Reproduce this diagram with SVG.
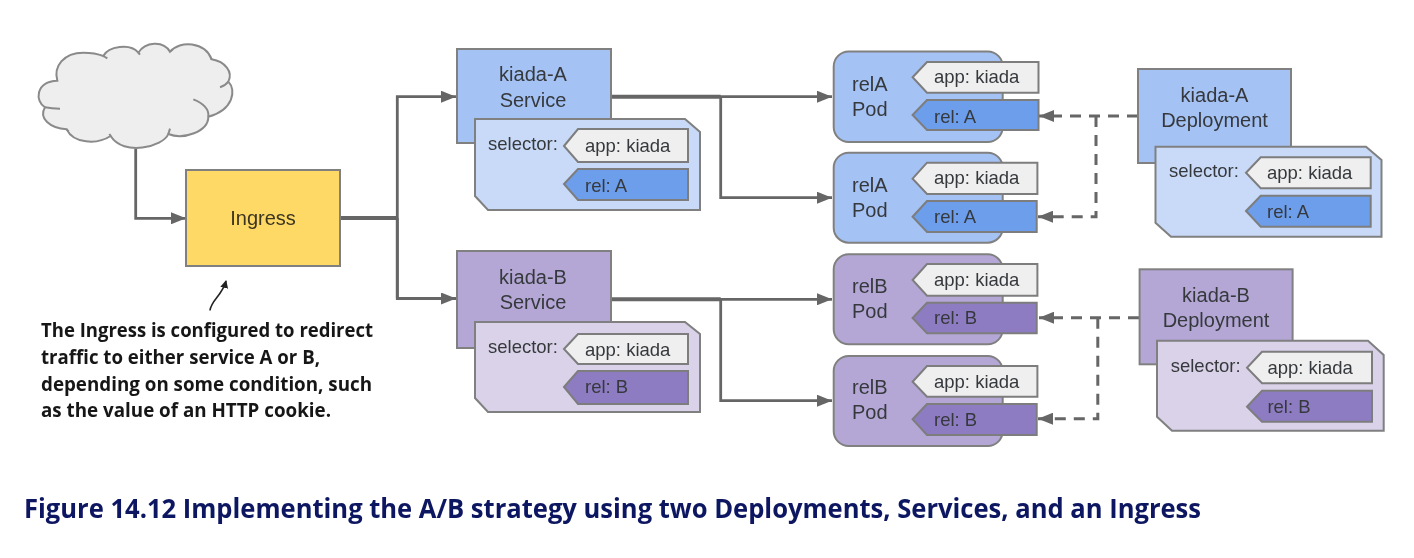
<svg xmlns="http://www.w3.org/2000/svg" width="1414" height="558" viewBox="0 0 1414 558">
<style>
text{font-family:"Liberation Sans",Arial,sans-serif;fill:#36393c}
.l{font-size:20px}.s{font-size:18.5px}.m{text-anchor:middle}
.box{stroke:#808080;stroke-width:2}
.blue{fill:#a4c2f4}.blueL{fill:#c9daf8}.blueD{fill:#6d9eeb}
.pur{fill:#b4a7d6}.purL{fill:#d9d2e9}.purD{fill:#8e7cc3}
.grey{fill:#efefef}
.tag{stroke:#7d7d7d;stroke-width:2}
.c{fill:none;stroke:#666;stroke-width:2.800}
.t{fill:none;stroke:#666;stroke-width:4}
.d{fill:none;stroke:#666;stroke-width:3;stroke-dasharray:11 8}
.note{font-family:"Open Sans",sans-serif;font-weight:700;font-size:19px;fill:#151515}
.cap{font-family:"Open Sans",sans-serif;font-weight:700;font-size:26px;fill:#0b1560}
</style>
<defs>
<filter id="soft" x="-2%" y="-2%" width="104%" height="104%"><feGaussianBlur stdDeviation="0.55"/></filter>
<marker id="ah" markerUnits="userSpaceOnUse" markerWidth="15" markerHeight="12" refX="15" refY="6" orient="auto"><path d="M0 0L15 6L0 12Z" fill="#666"/></marker>
<marker id="sa" markerUnits="userSpaceOnUse" markerWidth="8" markerHeight="10" refX="7" refY="4" orient="auto"><path d="M0 0L8 4L0 8Z" fill="#222"/></marker>
</defs>
<rect width="1414" height="558" fill="#fff"/>
<g filter="url(#soft)">
<g id="connectors">
<path class="c" d="M135.700 149V218.300H186" marker-end="url(#ah)"/>
<path class="t" d="M340 218H397.300"/>
<path class="c" d="M397.300 298.500V96.700H456" marker-end="url(#ah)"/>
<path class="c" d="M397.300 218V298.500H456" marker-end="url(#ah)"/>
<path class="c" d="M611 96.700H832" marker-end="url(#ah)"/>
<path class="t" d="M611 96.700H720.700"/>
<path class="c" d="M720.700 96.700V197.700H832" marker-end="url(#ah)"/>
<path class="c" d="M611 299.300H832" marker-end="url(#ah)"/>
<path class="t" d="M611 299.300H720.700"/>
<path class="c" d="M720.700 299.300V400.700H832" marker-end="url(#ah)"/>
<path class="d" d="M1138 116H1039" marker-end="url(#ah)"/>
<path class="d" d="M1096 116V216.700H1038" marker-end="url(#ah)"/>
<path class="d" d="M1139 317.700H1039" marker-end="url(#ah)"/>
<path class="d" d="M1097.800 317.700V418.700H1038" marker-end="url(#ah)"/>
<path d="M210 310.500C211 300 222 296 226 281" fill="none" stroke="#222" stroke-width="1.600" marker-end="url(#sa)"/>
</g>
<g id="cloud" transform="translate(20 30) scale(.33333)">
<path d="M112 152C100 110 130 68 190 68C215 68 235 72 250 78C265 50 330 38 355 68C375 35 430 30 450 65C480 30 555 35 575 88C615 95 640 125 625 155C650 180 640 240 565 260C565 305 490 330 445 312C430 350 310 380 272 318C230 345 160 340 140 298C90 295 55 265 75 232C45 215 45 155 112 152Z" fill="#eee" stroke="#8a8a8a" stroke-width="6"/>
<path d="M120 236Q95 236 75 232M520 208C550 220 568 235 565 260M600 172Q615 168 625 155M262 85L250 78M445 312L450 296M272 318L268 312M140 298L146 304M450 65L458 58M355 68L360 74M575 88L572 84" fill="none" stroke="#8a8a8a" stroke-width="6"/>
</g>
<g id="ingress">
<rect class="box" x="186" y="170" width="154" height="96" fill="#ffd966"/>
<text class="l m" x="263" y="225" style="fill:#3a3520">Ingress</text>
</g>
<g id="service-a">
<rect class="box blue" x="457" y="49" width="154" height="94"/>
<text class="l m" x="533" y="81">kiada-A</text>
<text class="l m" x="533" y="107">Service</text>
<path class="box blueL" d="M475 119H685L700 132V210H488L475 196Z"/>
<text class="s" x="488" y="150">selector:</text>
<path class="tag grey" d="M564 146L578 129H688V162H578Z"/>
<text class="s" x="585" y="152">app: kiada</text>
<path class="tag blueD" d="M564 184L578 169H688V200H578Z"/>
<text class="s" x="585" y="192">rel: A</text>
</g>
<g id="service-b">
<rect class="box pur" x="457" y="251" width="154" height="97"/>
<text class="l m" x="533" y="284">kiada-B</text>
<text class="l m" x="533" y="309">Service</text>
<path class="box purL" d="M475 322H685L700 334V412H488L475 398Z"/>
<text class="s" x="488" y="353">selector:</text>
<path class="tag grey" d="M564 349L578 334H688V364H578Z"/>
<text class="s" x="585" y="356">app: kiada</text>
<path class="tag purD" d="M564 387L578 371H688V404H578Z"/>
<text class="s" x="585" y="393">rel: B</text>
</g>
<g id="pod-a1">
<rect class="box blue" x="833.700" y="51.500" width="169" height="90.500" rx="15"/>
<text class="l" x="852" y="91">relA</text>
<text class="l" x="852" y="116">Pod</text>
<path class="tag grey" d="M912.600 77.300L927 62H1038.500V92.700H927Z"/>
<text class="s" x="934" y="83">app: kiada</text>
<path class="tag blueD" d="M912.600 115L927 100H1038.500V130H927Z"/>
<text class="s" x="934" y="122.700">rel: A</text>
</g>
<g id="pod-a2">
<rect class="box blue" x="833.700" y="152.700" width="169" height="90" rx="15"/>
<text class="l" x="852" y="192">relA</text>
<text class="l" x="852" y="217">Pod</text>
<path class="tag grey" d="M912.600 178.700L927 162.700H1037.400V194H927Z"/>
<text class="s" x="934" y="184">app: kiada</text>
<path class="tag blueD" d="M912.600 216.700L927 201H1036.700V232H927Z"/>
<text class="s" x="934" y="223">rel: A</text>
</g>
<g id="pod-b1">
<rect class="box pur" x="833.700" y="254.300" width="169" height="90" rx="15"/>
<text class="l" x="852" y="293.300">relB</text>
<text class="l" x="852" y="318.300">Pod</text>
<path class="tag grey" d="M912.600 280L927 264H1037.400V295.700H927Z"/>
<text class="s" x="934" y="286">app: kiada</text>
<path class="tag purD" d="M912.600 318L927 302.700H1036.700V333.300H927Z"/>
<text class="s" x="934" y="324.300">rel: B</text>
</g>
<g id="pod-b2">
<rect class="box pur" x="833.700" y="356" width="169" height="90" rx="15"/>
<text class="l" x="852" y="394.300">relB</text>
<text class="l" x="852" y="419.300">Pod</text>
<path class="tag grey" d="M912.600 381.700L927 366H1037.400V396.700H927Z"/>
<text class="s" x="934" y="387.700">app: kiada</text>
<path class="tag purD" d="M912.600 419.300L927 404H1036.700V435H927Z"/>
<text class="s" x="934" y="426">rel: B</text>
</g>
<g id="deployment-a">
<rect class="box blue" x="1138" y="69" width="153" height="94"/>
<text class="l m" x="1214.500" y="101.700">kiada-A</text>
<text class="l m" x="1214.500" y="126.700">Deployment</text>
<path class="box blueL" d="M1155.500 146.700H1366L1381.500 160V236.700H1171L1155.500 222.700Z"/>
<text class="s" x="1169" y="176.700">selector:</text>
<path class="tag grey" d="M1246 172.700L1260.700 157.300H1370.700V188.300H1260.700Z"/>
<text class="s" x="1267" y="179">app: kiada</text>
<path class="tag blueD" d="M1246 211L1260.700 195.700H1370.700V226.700H1260.700Z"/>
<text class="s" x="1267" y="217.700">rel: A</text>
</g>
<g id="deployment-b">
<rect class="box pur" x="1139.600" y="269.300" width="153" height="95"/>
<text class="l m" x="1216" y="301.700">kiada-B</text>
<text class="l m" x="1216" y="327.300">Deployment</text>
<path class="box purL" d="M1157 340.700H1368L1383.700 355V430.700H1172L1157 416.700Z"/>
<text class="s" x="1170.700" y="371.700">selector:</text>
<path class="tag grey" d="M1247 367.700L1262 351.700H1372V383.300H1262Z"/>
<text class="s" x="1267.400" y="374.300">app: kiada</text>
<path class="tag purD" d="M1247 406.700L1262 390.700H1372V421.700H1262Z"/>
<text class="s" x="1267.400" y="412.700">rel: B</text>
</g>
<g id="note">
<text class="note" x="41" y="337.300" textLength="332" lengthAdjust="spacingAndGlyphs">The Ingress is configured to redirect</text>
<text class="note" x="41" y="364" textLength="279" lengthAdjust="spacingAndGlyphs">traffic to either service A or B,</text>
<text class="note" x="41" y="390.700" textLength="331" lengthAdjust="spacingAndGlyphs">depending on some condition, such</text>
<text class="note" x="41" y="417.300" textLength="290" lengthAdjust="spacingAndGlyphs">as the value of an HTTP cookie.</text>
</g>
<text class="cap" x="24" y="518" textLength="1177" lengthAdjust="spacingAndGlyphs">Figure 14.12 Implementing the A/B strategy using two Deployments, Services, and an Ingress</text>
</g>
</svg>
